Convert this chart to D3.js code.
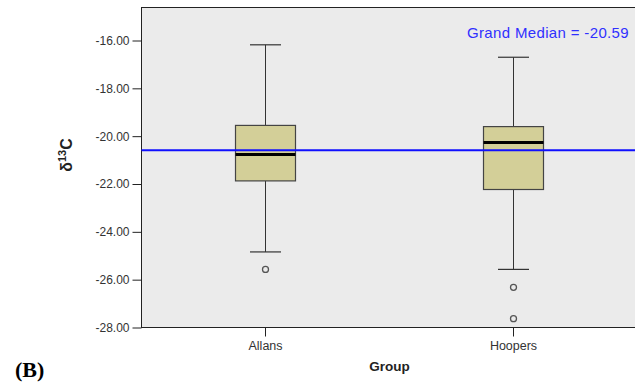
<!DOCTYPE html>
<html>
<head>
<meta charset="utf-8">
<script src="https://cdn.jsdelivr.net/npm/d3@7"></script>
<style>
  body { margin: 0; background: #fff; }
  text { font-family: "Liberation Sans", Arial, sans-serif; }
</style>
</head>
<body>
<div id="run"></div>
<script>
var groups = ["Allans", "Hoopers"];
var whiskerLow = [-24.84, -25.57];
var q1 = [-21.87, -22.23];
var medians = [-20.77, -20.26];
var q3 = [-19.55, -19.60];
var whiskerHigh = [-16.18, -16.70];
var outliers = [[-25.57], [-26.32, -27.63]];
var grandMedian = -20.59;
var yTicks = [-16, -18, -20, -22, -24, -26, -28];

var width = 635, height = 382;
var plotLeft = 141.5, plotTop = 7.5, plotRight = 636, plotBottom = 327.5;

var svg = d3.select("#run").append("svg")
    .attr("width", width)
    .attr("height", height);

var y = d3.scaleLinear().domain([-28, -14.62]).range([plotBottom, plotTop]);
var x = d3.scalePoint().domain(groups).range([265, 513]);

// hyphen instead of unicode minus, like the original
var fmt = function(d) { return d.toFixed(2); };

svg.append("rect")
    .attr("x", plotLeft).attr("y", plotTop)
    .attr("width", plotRight - plotLeft).attr("height", plotBottom - plotTop)
    .attr("fill", "#ebebeb")
    .attr("stroke", "#222").attr("stroke-width", 1);

// y axis
var yAxis = svg.append("g")
    .attr("transform", "translate(" + plotLeft + ",0)")
    .call(d3.axisLeft(y).tickValues(yTicks).tickSize(9).tickPadding(3).tickFormat(fmt));
yAxis.select(".domain").remove();
yAxis.selectAll("text").attr("font-size", 12).attr("fill", "#333")
    .style("font-family", "Liberation Sans, Arial, sans-serif");
yAxis.selectAll("line").attr("stroke", "#222");

// x axis
var xAxis = svg.append("g")
    .attr("transform", "translate(0," + plotBottom + ")")
    .call(d3.axisBottom(x).tickSize(9).tickPadding(5));
xAxis.select(".domain").remove();
xAxis.selectAll("text").attr("font-size", 12.5).attr("fill", "#333")
    .style("font-family", "Liberation Sans, Arial, sans-serif");
xAxis.selectAll("line").attr("stroke", "#222");

// boxes
var bw = 60, cap = 31;
groups.forEach(function(g, i) {
    var cx = Math.round(x(g)) + 0.5;
    svg.append("line")
        .attr("x1", cx).attr("x2", cx)
        .attr("y1", y(whiskerHigh[i])).attr("y2", y(q3[i]))
        .attr("stroke", "#333");
    svg.append("line")
        .attr("x1", cx).attr("x2", cx)
        .attr("y1", y(q1[i])).attr("y2", y(whiskerLow[i]))
        .attr("stroke", "#333");
    [whiskerHigh[i], whiskerLow[i]].forEach(function(v) {
        svg.append("line")
            .attr("x1", cx - cap / 2).attr("x2", cx + cap / 2)
            .attr("y1", y(v)).attr("y2", y(v))
            .attr("stroke", "#333").attr("stroke-width", 1.2);
    });
    svg.append("rect")
        .attr("x", cx - bw / 2).attr("width", bw)
        .attr("y", y(q3[i])).attr("height", y(q1[i]) - y(q3[i]))
        .attr("fill", "#d3cf98").attr("stroke", "#444").attr("stroke-width", 1.2);
    svg.append("line")
        .attr("x1", cx - bw / 2).attr("x2", cx + bw / 2)
        .attr("y1", y(medians[i])).attr("y2", y(medians[i]))
        .attr("stroke", "#000").attr("stroke-width", 3);
    outliers[i].forEach(function(v) {
        svg.append("circle")
            .attr("cx", cx).attr("cy", y(v)).attr("r", 3)
            .attr("fill", "none").attr("stroke", "#555").attr("stroke-width", 1.3);
    });
});

// grand median
svg.append("line")
    .attr("x1", plotLeft).attr("x2", width)
    .attr("y1", y(grandMedian)).attr("y2", y(grandMedian))
    .attr("stroke", "#1010ff").attr("stroke-width", 2);
svg.append("text")
    .attr("x", 629).attr("y", 38)
    .attr("text-anchor", "end")
    .attr("font-size", 15).attr("letter-spacing", 0.35).attr("fill", "#3030ff")
    .text("Grand Median = " + grandMedian.toFixed(2));

// titles
var yt = svg.append("text")
    .attr("transform", "translate(72,155) rotate(-90)")
    .attr("text-anchor", "middle")
    .attr("font-size", 16).attr("font-weight", "bold").attr("fill", "#222");
yt.append("tspan").text("δ");
yt.append("tspan").attr("font-size", 11).attr("dy", -6).text("13");
yt.append("tspan").attr("dy", 6).text("C");

svg.append("text")
    .attr("x", (x("Allans") + x("Hoopers")) / 2 + 0.5).attr("y", 371)
    .attr("text-anchor", "middle")
    .attr("font-size", 13.5).attr("font-weight", "bold").attr("fill", "#222")
    .text("Group");

svg.append("text")
    .attr("x", 15).attr("y", 377)
    .attr("font-size", 22).attr("font-weight", "bold")
    .style("font-family", "Liberation Serif, Times New Roman, serif")
    .text("(B)");
</script>
</body>
</html>
